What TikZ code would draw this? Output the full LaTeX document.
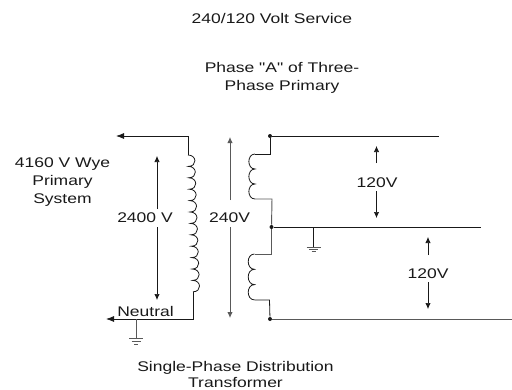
\documentclass[tikz,border=0pt]{standalone}
\usepackage{fontspec}
\setmainfont{Liberation Sans}[FakeStretch=1.25, Ligatures=TeXOff]
\usetikzlibrary{arrows.meta, positioning}
\definecolor{mainBlack}{gray}{0.1}
\definecolor{subGray}{gray}{0.35}
\tikzset{
    wire/.style={mainBlack, line width=0.6pt},
    wireGray/.style={subGray, line width=0.7pt},
    arrowLine/.style={-{Latex[length=4.5pt,width=4pt]}, mainBlack, line width=0.5pt},
    arrowGray/.style={-{Latex[length=4.5pt,width=4pt]}, subGray, line width=0.7pt},
    label/.style={inner sep=0pt, font=\fontsize{10.5pt}{13.5pt}\selectfont, align=center, text=mainBlack},
    dot/.style={circle, fill=mainBlack, inner sep=0pt, minimum size=3pt}
}
\begin{document}
\begin{tikzpicture}[x=0.75pt, y=-0.75pt]
    \useasboundingbox (0,0) rectangle (512,390);

    \node[label] (title) at (272,18) {240/120 Volt Service};
    \node[label] (phase) at (282,78) {Phase "A" of Three-\\Phase Primary};
    \node[label] (wye) at (62.5,182) {4160 V Wye\\Primary\\System};
    \node[label] (pv) at (145,218) {2400 V};
    \node[label] (sv) at (229.5,218) {240V};
    \node[label] (neutral) at (145.5,311) {Neutral};
    \node[label] (upper) at (377,183) {120V};
    \node[label] (lower) at (428,274) {120V};
    \node[label] (dist) at (235.5,374.5) {Single-Phase Distribution\\[-1.5pt]Transformer};

    % primary
    \coordinate (pTop) at (188,136);
    \coordinate (pHigh) at (188,155);
    \coordinate (pLow) at (193,292);
    \coordinate (pBot) at (193,319);
    \coordinate (pArrow) at (116,136);
    \coordinate (nArrow) at (106,319);
    \draw[wire, -{Latex[length=6pt,width=4.5pt]}] (pHigh) -- (pTop) -- (pArrow);
    \draw[wire, -{Latex[length=6pt,width=4.5pt]}] (pLow) -- (pBot) -- (nArrow);
    \draw[wire] (pHigh) \foreach \i in {1,...,12} { to[out=0, in=0, looseness=2] ++(0.42,11.4) };

    % secondary
    \node[dot] (top) at (270,136) {};
    \node[dot] (mid) at (271.5,227) {};
    \node[dot] (bot) at (270,319) {};
    \coordinate (topEnd) at (439,136);
    \coordinate (midEnd) at (481,227);
    \coordinate (botEnd) at (512,319);
    \draw[wire] (top) -- (topEnd);
    \draw[wire] (mid) -- (midEnd);
    \draw[wireGray] (bot) -- (botEnd);
    \draw[wire] (top) -- ++(0,18) -- ++(-15,0) coordinate (a1);
    \draw[wire] (a1) \foreach \i in {1,2,3} { to[out=180, in=180, looseness=1.4] ++(0,15) } coordinate (a4);
    \draw[wireGray] (a4) -- ++(17,0) -- (mid);
    \draw[wireGray] (mid) -- ++(0,27) -- ++(-17,0) coordinate (b1);
    \draw[wire] (b1) \foreach \i in {1,2,3} { to[out=180, in=180, looseness=1.4] ++(0,15.3) } coordinate (b4);
    \draw[wire] (b4) -- ++(15,0) -- (bot);

    % voltage arrows
    \coordinate (pvUp) at (157,156);
    \coordinate (pvDown) at (157,300);
    \coordinate (svUp) at (230,137);
    \coordinate (svDown) at (230,318);
    \coordinate (upperUp) at (376.5,146);
    \coordinate (upperDown) at (376.5,218);
    \coordinate (lowerUp) at (428,237);
    \coordinate (lowerDown) at (428,309);
    \draw[arrowLine] (157,209) -- (pvUp);
    \draw[arrowLine] (157,227) -- (pvDown);
    \draw[arrowGray] (230,200) -- (svUp);
    \draw[arrowGray] (230,227) -- (svDown);
    \draw[arrowLine] (376.5,163) -- (upperUp);
    \draw[arrowLine] (376.5,191) -- (upperDown);
    \draw[arrowLine] (428,255) -- (lowerUp);
    \draw[arrowLine] (428,282) -- (lowerDown);

    % grounds
    \draw[wireGray] (136,319) -- (136,338);
    \draw[wireGray] (129,338) -- (143,338) (131.5,341) -- (140.5,341) (134,344) -- (138,344);
    \draw[wire] (313,227) -- (313,247);
    \draw[wireGray] (306.5,247) -- (320.5,247) (309,249) -- (318,249) (311.5,251) -- (315.5,251);
\end{tikzpicture}
\end{document}
